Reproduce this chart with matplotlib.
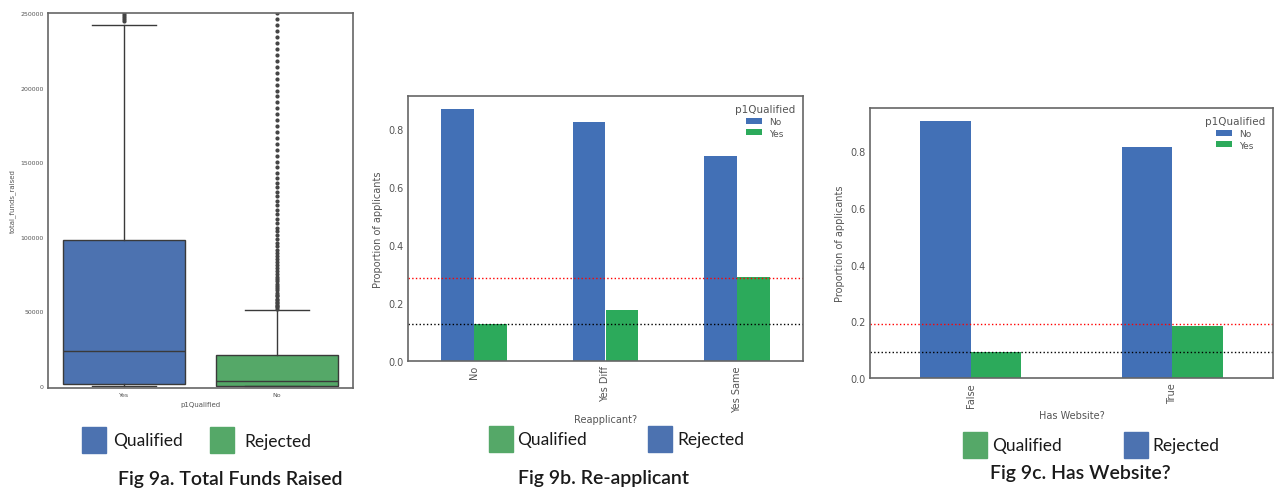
import matplotlib
matplotlib.use("Agg")
import matplotlib.pyplot as plt
from matplotlib.patches import Rectangle

W, H = 1274, 489

# ---- data -------------------------------------------------------------
box_labels = ["Yes", "No"]
yes_stats = dict(q1=1000, med=23500, q3=98000, whislo=0, whishi=242000)
no_stats = dict(q1=0, med=3000, q3=20500, whislo=0, whishi=50500)
yes_fliers = [244500, 246000, 247000, 248500, 250000]
no_fliers = [51500, 52500, 53500, 54500, 55500, 56500, 57500, 58500, 60000,
             61000, 62500, 64000, 65500, 67000, 68500, 70000, 71500, 73000,
             75000, 77000, 79000, 81000, 83000, 85000, 87000, 89000, 91000,
             93500, 96000, 98500, 101000, 103500, 106000, 109000, 112000,
             115000, 118000, 121000, 124000, 127000, 130000, 133000, 136000,
             139500, 143000, 146500, 150000, 154000, 158000, 162000, 166000,
             170000, 174000, 178000, 182000, 186000, 190000, 194000, 198000,
             202000, 206000, 210000, 214000, 218000, 222000, 226000, 230000,
             234000, 238000, 242000, 246000, 250000]

reapp_cats = ["No", "Yes Diff", "Yes Same"]
reapp_no = [0.869, 0.826, 0.708]
reapp_yes = [0.129, 0.175, 0.290]
reapp_red = 0.287
reapp_black = 0.129

web_cats = ["False", "True"]
web_no = [0.907, 0.817]
web_yes = [0.091, 0.183]
web_red = 0.191
web_black = 0.092

BOX_BLUE, BOX_GREEN = "#4C72B0", "#55A868"
BAR_BLUE, BAR_GREEN = "#4270B6", "#2CAA5B"
GREY = "#555555"

fig = plt.figure(figsize=(W / 100, H / 100), dpi=100)


def add_ax(x0, y0, x1, y1):
    return fig.add_axes([x0 / W, 1 - y1 / H, (x1 - x0) / W, (y1 - y0) / H])


def style(ax, fs):
    for s in ax.spines.values():
        s.set_color("#666666")
        s.set_linewidth(1.2)
    ax.tick_params(length=0, labelsize=fs, colors=GREY, pad=3)


# ---- Fig 9a: box plot -------------------------------------------------
ax = add_ax(48, 14, 353, 389)
stats = []
for lab, st, fl in [("Yes", yes_stats, yes_fliers), ("No", no_stats, no_fliers)]:
    d = dict(st)
    d["fliers"] = fl
    d["label"] = lab
    stats.append(d)
line = dict(color="#3a3a3a", linewidth=1.0)
bp = ax.bxp(stats, positions=[0, 1], widths=0.8, capwidths=0.42,
            patch_artist=True, boxprops=line, whiskerprops=line,
            capprops=line, medianprops=line,
            flierprops=dict(marker="o", markersize=2.0, markerfacecolor="#444444",
                            markeredgecolor="#444444", linestyle="none"))
for patch, c in zip(bp["boxes"], [BOX_BLUE, BOX_GREEN]):
    patch.set_facecolor(c)
    patch.set_edgecolor("#3a3a3a")
ax.set_xlim(-0.5, 1.5)
ax.set_ylim(-1500, 250000)
ax.set_yticks([0, 50000, 100000, 150000, 200000, 250000])
ax.set_xticks([0, 1], box_labels)
ax.set_xlabel("p1Qualified", fontsize=5, color=GREY, labelpad=3)
ax.set_ylabel("total_funds_raised", fontsize=5, color=GREY, labelpad=3)
style(ax, 4.5)


# ---- bar helper -------------------------------------------------------
def bars(ax, cats, no, yes, red, black, xlabel):
    x = list(range(len(cats)))
    ax.bar([i - 0.125 for i in x], no, width=0.25, color=BAR_BLUE, label="No")
    ax.bar([i + 0.125 for i in x], yes, width=0.25, color=BAR_GREEN, label="Yes")
    ax.axhline(red, color="red", linestyle=":", linewidth=1)
    ax.axhline(black, color="black", linestyle=":", linewidth=1)
    ax.set_xlim(-0.5, len(cats) - 0.5)
    ax.set_xticks(x, cats, rotation=90)
    ax.set_yticks([0.0, 0.2, 0.4, 0.6, 0.8])
    ax.set_xlabel(xlabel, fontsize=7, color=GREY, labelpad=2)
    ax.set_ylabel("Proportion of applicants", fontsize=7, color=GREY)
    leg = ax.legend(title="p1Qualified", loc="upper right", frameon=False,
                    fontsize=6.5, title_fontsize=7.5, handlelength=1.8,
                    handleheight=0.6, borderaxespad=0.5, labelspacing=0.3)
    for t in leg.get_texts():
        t.set_color(GREY)
    leg.get_title().set_color(GREY)
    style(ax, 7)


ax2 = add_ax(408, 97, 803, 362)
bars(ax2, reapp_cats, reapp_no, reapp_yes, reapp_red, reapp_black, "Reapplicant?")
ax2.set_ylim(0, 0.915)

ax3 = add_ax(870, 109, 1273, 379)
bars(ax3, web_cats, web_no, web_yes, web_red, web_black, "Has Website?")
ax3.set_ylim(0, 0.953)


# ---- custom legends & captions ---------------------------------------
def sq(x, y, c):
    fig.patches.append(Rectangle((x / W, 1 - (y + 26) / H), 24 / W, 26 / H,
                                 transform=fig.transFigure, color=c))


def txt(x, y, s, fs, weight="normal"):
    fig.text(x / W, 1 - y / H, s, fontsize=fs, family="Lato", weight=weight,
             color="#1a1a1a", va="center", ha="left")


sq(82, 428, BOX_BLUE); txt(113, 441, "Qualified", 12.5)
sq(210, 428, BOX_GREEN); txt(244, 442, "Rejected", 12.5)
txt(118, 480, "Fig 9a. Total Funds Raised", 14, "semibold")

sq(489, 427, BOX_GREEN); txt(517, 440, "Qualified", 12.5)
sq(648, 427, BOX_BLUE); txt(677, 440, "Rejected", 12.5)
txt(518, 479, "Fig 9b. Re-applicant", 14, "semibold")

sq(963, 433, BOX_GREEN); txt(992, 446, "Qualified", 12.5)
sq(1124, 433, BOX_BLUE); txt(1152, 446, "Rejected", 12.5)
txt(990, 474, "Fig 9c. Has Website?", 14, "semibold")

fig.savefig("out.png", dpi=100)
